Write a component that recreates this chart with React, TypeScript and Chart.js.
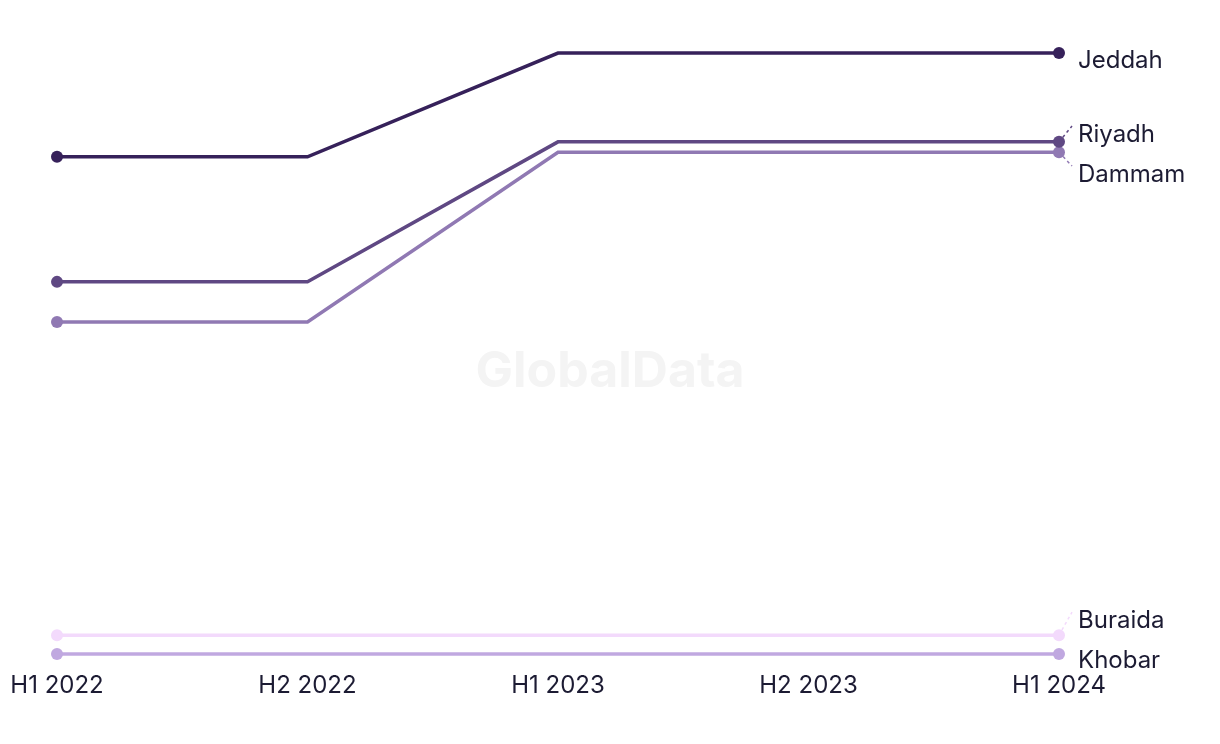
import React, { useEffect, useRef } from "react";
import { Chart, registerables } from "chart.js";

Chart.register(...registerables);

const categories = ["H1 2022", "H2 2022", "H1 2023", "H2 2023", "H1 2024"];
const cities = ["Jeddah", "Riyadh", "Dammam", "Buraida", "Khobar"];
const jeddah = [78.9, 78.9, 94.9, 94.9, 94.9];
const riyadh = [59.6, 59.6, 81.2, 81.2, 81.2];
const dammam = [53.4, 53.4, 79.6, 79.6, 79.6];
const buraida = [5.1, 5.1, 5.1, 5.1, 5.1];
const khobar = [2.2, 2.2, 2.2, 2.2, 2.2];
const seriesValues = [jeddah, riyadh, dammam, buraida, khobar];
const colors = ["#36215a", "#5f4883", "#9079b3", "#f3dafc", "#c0a8e0"];

const FONT = "Inter, 'Noto Sans', sans-serif";
const TEXT = "#1c1b33";

const watermark = {
  id: "watermark",
  beforeDatasetsDraw(chart: any) {
    const ctx = chart.ctx;
    ctx.save();
    ctx.font = `bold 50px ${FONT}`;
    ctx.fillStyle = "#f4f4f4";
    ctx.textAlign = "center";
    ctx.textBaseline = "middle";
    ctx.fillText("GlobalData", 610, 372);
    ctx.restore();
  },
};

const endLabels = {
  id: "endLabels",
  afterDatasetsDraw(chart: any) {
    const ctx = chart.ctx;
    const items: any[] = [];
    chart.data.datasets.forEach((ds: any, i: number) => {
      const meta = chart.getDatasetMeta(i);
      const pt = meta.data[meta.data.length - 1];
      items.push({ label: ds.label, x: pt.x, py: pt.y, y: pt.y + 6, color: ds.borderColor });
    });
    items.sort((a, b) => a.py - b.py);
    const gap = 40;
    const bottomLimit = chart.chartArea.bottom - 9;
    for (let iter = 0; iter < 300; iter++) {
      let moved = false;
      for (let k = 0; k < items.length - 1; k++) {
        const a = items[k], b = items[k + 1];
        const d = b.y - a.y;
        if (d < gap - 0.01) {
          const shift = (gap - d) / 2;
          a.y -= shift;
          b.y += shift;
          moved = true;
        }
      }
      for (const it of items) {
        if (it.y > bottomLimit) { it.y = bottomLimit; moved = true; }
      }
      if (!moved) break;
    }
    ctx.save();
    ctx.font = `24px ${FONT}`;
    ctx.textBaseline = "middle";
    ctx.textAlign = "left";
    for (const it of items) {
      const lx = it.x + 19;
      const endY = it.y - 7;
      if (Math.abs(endY - it.py) > 8) {
        const ex = it.x + 13;
        const dx = ex - it.x, dy = endY - it.py;
        const len = Math.sqrt(dx * dx + dy * dy);
        ctx.beginPath();
        ctx.setLineDash([3, 3]);
        ctx.strokeStyle = it.color;
        ctx.lineWidth = 1.5;
        ctx.moveTo(it.x + (dx / len) * 6, it.py + (dy / len) * 6);
        ctx.lineTo(ex, endY);
        ctx.stroke();
        ctx.setLineDash([]);
      }
      ctx.fillStyle = TEXT;
      ctx.fillText(it.label, lx, it.y + 2);
    }
    ctx.restore();
  },
};

export default function App() {
  const ref = useRef<HTMLCanvasElement | null>(null);
  useEffect(() => {
    if (!ref.current) return;
    const chart = new Chart(ref.current, {
      type: "line",
      data: {
        labels: categories,
        datasets: cities.map((c, i) => ({
          label: c,
          data: seriesValues[i],
          borderColor: colors[i],
          backgroundColor: colors[i],
          borderWidth: 3.5,
          pointRadius: categories.map((_, j) => (j === 0 || j === categories.length - 1 ? 6 : 0)),
          pointHoverRadius: 0,
          pointBorderWidth: 0,
          tension: 0,
          fill: false,
        })),
      },
      options: {
        animation: false,
        responsive: false,
        maintainAspectRatio: false,
        events: [],
        layout: { padding: { left: 57, right: 161, top: 20, bottom: 41 } },
        plugins: { legend: { display: false }, tooltip: { enabled: false } },
        scales: {
          x: {
            type: "category",
            offset: false,
            grid: { display: false, drawTicks: false },
            border: { display: false },
            ticks: { color: TEXT, font: { family: FONT, size: 24 }, padding: 3, maxRotation: 0 },
          },
          y: {
            display: false,
            min: 0,
            max: 100,
          },
        },
      },
      plugins: [watermark, endLabels],
    });
    return () => chart.destroy();
  }, []);
  return (
    <div style={{ position: "fixed", left: 0, top: 0, width: 1220, height: 744, background: "#fff" }}>
      <canvas ref={ref} width={1220} height={744} style={{ width: 1220, height: 744 }} />
    </div>
  );
}
